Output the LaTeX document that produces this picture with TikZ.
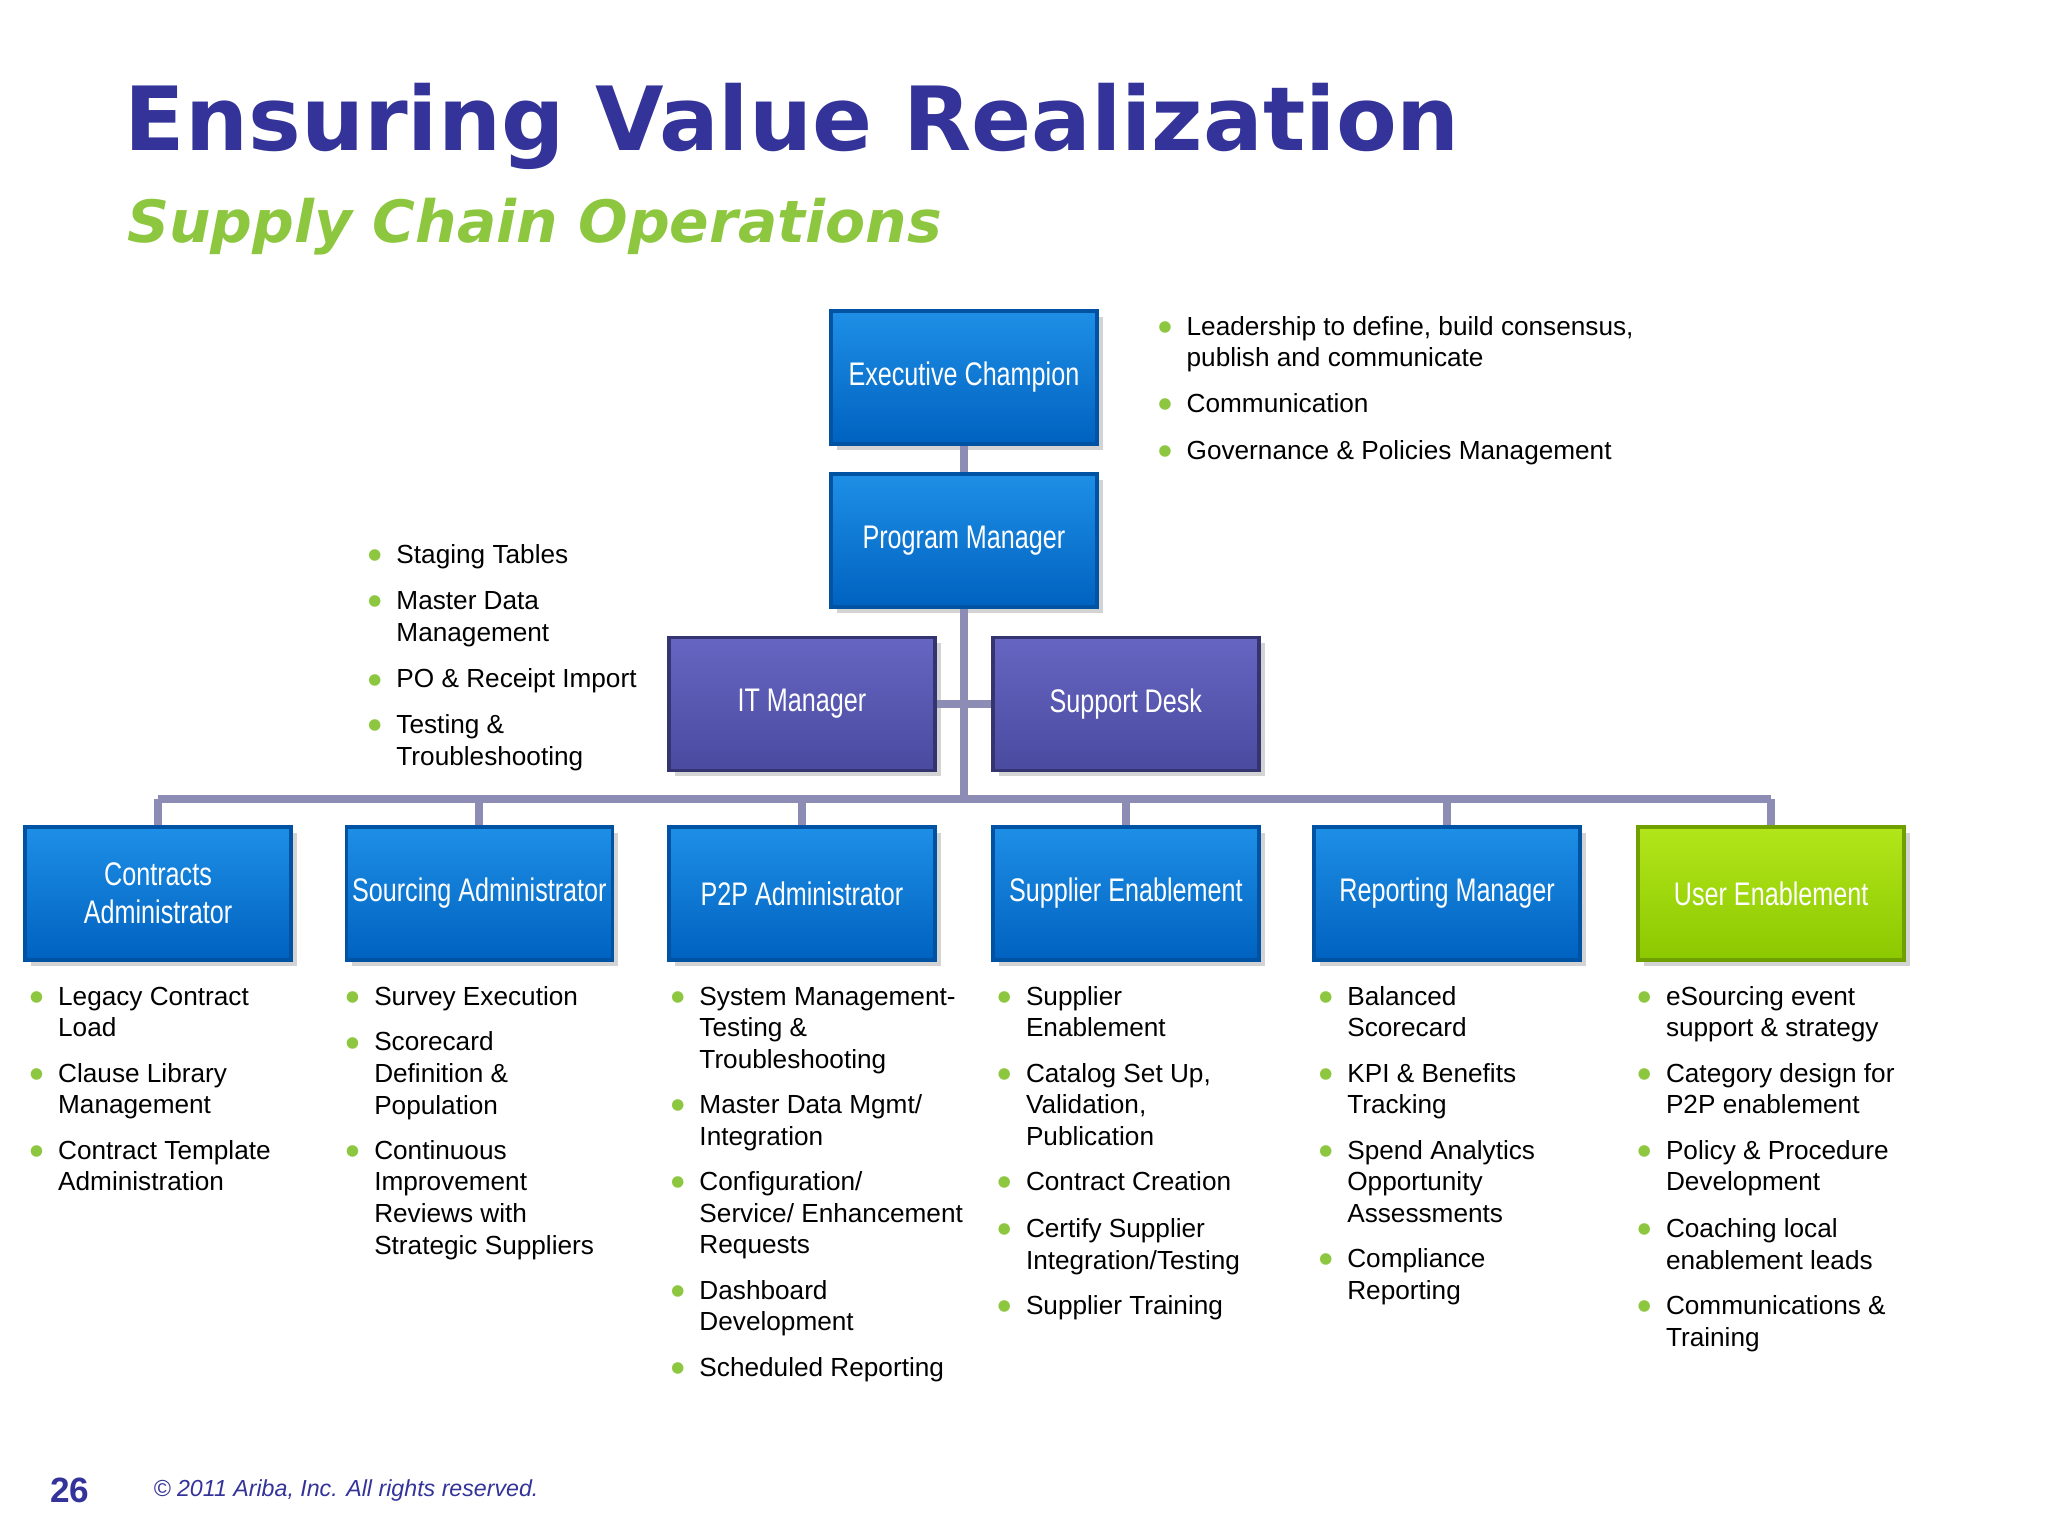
\documentclass[tikz,border=0pt]{standalone}
\usepackage{fontspec}
\setmainfont{Liberation Sans}
\newfontfamily\titlefont{DejaVu Sans}
\newfontfamily\boxfont[FakeStretch=0.77]{Liberation Sans}
\usetikzlibrary{shadows}
\definecolor{ttl}{HTML}{333399}
\definecolor{grn}{HTML}{8DC63F}
\definecolor{lnk}{HTML}{8C8CB4}
\definecolor{bt}{HTML}{1E8FE6}
\definecolor{bb}{HTML}{0062C0}
\definecolor{pt}{HTML}{6666C2}
\definecolor{pb}{HTML}{4A4AA0}
\definecolor{gt}{HTML}{B2E61A}
\definecolor{gb}{HTML}{8CC800}
\tikzset{
 bx/.style={minimum width=2.66cm,minimum height=1.33cm,inner sep=1pt,align=center,text=white,
   font=\boxfont\fontsize{9.3}{11}\selectfont,drop shadow={opacity=0.35,shadow xshift=0.06cm,shadow yshift=-0.06cm}},
 blue/.style={bx,top color=bt,bottom color=bb,draw=bb!85!black,line width=1pt},
 purp/.style={bx,top color=pt,bottom color=pb,draw=pb!70!black,line width=1pt},
 gbx/.style={bx,top color=gt,bottom color=gb,draw=gb!80!black,line width=1pt},
 lk/.style={draw=lnk,line width=2.2pt},
 itx/.style={anchor=north west,align=left,inner sep=0pt,font=\fontsize{7.45}{9}\selectfont},
}
\newcommand\itm[3]{\node[text=grn,anchor=base,inner sep=0pt,font=\fontsize{8}{9}\selectfont] at (#1-16,#2+6) {$\bullet$};\node[itx] at (#1,#2-12.8) {\rule{0pt}{7pt}#3};}
\begin{document}
\begin{tikzpicture}[x=0.01306cm,y=-0.01306cm]
\useasboundingbox (0,0) rectangle (1568,1176);
\node[anchor=base west,inner sep=0pt,text=ttl,font=\titlefont\bfseries\fontsize{25.2}{27}\selectfont] (title) at (95,115) {Ensuring Value Realization};
\node[anchor=base west,inner sep=0pt,text=grn,font=\titlefont\bfseries\itshape\fontsize{16.6}{18}\selectfont] (sub) at (97,186) {Supply Chain Operations};
\node[blue] (ec) at (738,289) {Executive Champion};
\node[blue] (pm) at (738,414) {Program Manager};
\node[purp] (it) at (614,539) {IT Manager};
\node[purp] (sd) at (862,539) {Support Desk};
\coordinate (hub) at (738,612);
\foreach \n/\x in {b1/121,b2/367,b3/614,b4/862,b5/1108,b6/1356}
  {\coordinate (t\n) at (\x,612);}
\draw[lk] (ec.south) -- (pm.north);
\draw[lk] (pm.south) -- (hub);
\draw[lk] (it.east) -- (sd.west);
\draw[lk] (tb1) -- (tb6);
\foreach \n in {b1,b2,b3,b4,b5,b6} {\draw[lk] (t\n) -- ++(0,22);}
\node[blue] (b1) at (121,684) {Contracts\\Administrator};
\node[blue] (b2) at (367,684) {Sourcing Administrator};
\node[blue] (b3) at (614,684) {P2P Administrator};
\node[blue] (b4) at (862,684) {Supplier Enablement};
\node[blue] (b5) at (1108,684) {Reporting Manager};
\node[gbx] (b6) at (1356,684) {User Enablement};
\itm{908}{250}{Leadership to define, build consensus,\\publish and communicate}
\itm{908}{309}{Communication}
\itm{908}{345}{Governance \& Policies Management}
\itm{303}{425}{Staging Tables}
\itm{303}{460}{Master Data\\Management}
\itm{303}{520}{PO \& Receipt Import}
\itm{303}{555}{Testing \&\\Troubleshooting}
\itm{44}{763}{Legacy Contract\\Load}
\itm{44}{822}{Clause Library\\Management}
\itm{44}{881}{Contract Template\\Administration}
\itm{286}{763}{Survey Execution}
\itm{286}{798}{Scorecard\\Definition \&\\Population}
\itm{286}{881}{Continuous\\Improvement\\Reviews with\\Strategic Suppliers}
\itm{535}{763}{System Management-\\Testing \&\\Troubleshooting}
\itm{535}{846}{Master Data Mgmt/\\Integration}
\itm{535}{905}{Configuration/\\Service/ Enhancement\\Requests}
\itm{535}{988}{Dashboard\\Development}
\itm{535}{1047}{Scheduled Reporting}
\itm{785}{763}{Supplier\\Enablement}
\itm{785}{822}{Catalog Set Up,\\Validation,\\Publication}
\itm{785}{905}{Contract Creation}
\itm{785}{941}{Certify Supplier\\Integration/Testing}
\itm{785}{1000}{Supplier Training}
\itm{1031}{763}{Balanced\\Scorecard}
\itm{1031}{822}{KPI \& Benefits\\Tracking}
\itm{1031}{881}{Spend Analytics\\Opportunity\\Assessments}
\itm{1031}{964}{Compliance\\Reporting}
\itm{1275}{763}{eSourcing event\\support \& strategy}
\itm{1275}{822}{Category design for\\P2P enablement}
\itm{1275}{881}{Policy \& Procedure\\Development}
\itm{1275}{941}{Coaching local\\enablement leads}
\itm{1275}{1000}{Communications \&\\Training}
\node[anchor=base west,inner sep=0pt,text=ttl,font=\bfseries\fontsize{10}{11}\selectfont] (pg) at (38,1150) {26};
\node[anchor=base west,inner sep=0pt,text=ttl,font=\itshape\fontsize{6.6}{8}\selectfont] (cp) at (117,1146) {\textcopyright{} 2011 Ariba, Inc. All rights reserved.};
\end{tikzpicture}
\end{document}
